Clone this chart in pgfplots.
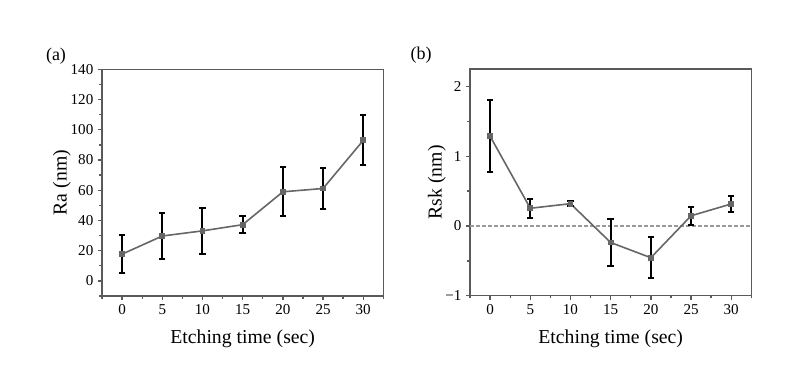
\documentclass[border=0pt]{standalone}
\usepackage{fontspec}
\setmainfont{Liberation Serif}
\usepackage{pgfplots}
\pgfplotsset{compat=1.18}
\definecolor{axgray}{HTML}{5A5A5A}
\definecolor{lngray}{HTML}{666666}
\begin{document}
\begin{tikzpicture}
\path[use as bounding box] (0,0) rectangle (598.5pt,288pt);
\pgfplotsset{
  every axis/.append style={
    scale only axis,
    width=211pt, height=170pt,
    axis line style={axgray, line width=1.1pt},
    tick style={axgray, line width=1pt},
    major tick length=3pt,
    minor tick length=2pt,
    tick align=outside,
    xtick pos=bottom, ytick pos=left,
    /pgf/number format/assume math mode=true,
    ticklabel style={font=\fontsize{11.3}{13}\selectfont, black},
    label style={font=\fontsize{14.8}{17}\selectfont, black},
    xmin=-2.5, xmax=32.5,
    xtick={0,5,...,30},
    minor xtick={-2.5,2.5,...,32.5},
    xlabel={Etching time (sec)},
    xlabel style={at={(axis description cs:0.5,0)}, anchor=base, yshift=-36pt},
  },
}
\begin{axis}[
  at={(76.5pt,66pt)}, anchor=south west,
  ymin=-10, ymax=140,
  ytick={0,20,...,140},
  minor ytick={-10,10,...,130},
  ylabel={Ra (nm)},
  ylabel style={at={(axis description cs:0,0.5)}, anchor=base, yshift=26.5pt},
]
\addplot[lngray, line width=1.2pt, mark=square*, mark size=1.6pt,
  mark options={fill=lngray, draw=lngray},
  error bars/.cd, y dir=both, y explicit,
  error bar style={black, line width=1.5pt},
  error mark options={black, line width=1.5pt, mark size=2.4pt, rotate=90}]
coordinates {
 (0,17.7) +- (0,12.6)
 (5,29.7) +- (0,14.9)
 (10,33.1) +- (0,15.0)
 (15,37.2) +- (0,5.6)
 (20,58.95) +- (0,16.1)
 (25,61.15) +- (0,13.25)
 (30,92.95) +- (0,16.55)
};
\end{axis}
\begin{axis}[
  at={(352.5pt,66.2pt)}, anchor=south west,
  ymin=-1, ymax=2.25,
  ytick={-1,0,1,2},
  yticklabels={−1,0,1,2},
  minor ytick={-0.5,0.5,1.5},
  ylabel={Rsk (nm)},
  ylabel style={at={(axis description cs:0,0.5)}, anchor=base, yshift=21.2pt},
]
\addplot[gray!80, dashed, line width=0.9pt, dash pattern=on 3pt off 1.5pt] coordinates {(-2.5,0) (32.5,0)};
\addplot[lngray, line width=1.2pt, mark=square*, mark size=1.6pt,
  mark options={fill=lngray, draw=lngray, solid},
  error bars/.cd, y dir=both, y explicit,
  error bar style={black, line width=1.5pt},
  error mark options={black, line width=1.5pt, mark size=2.4pt, rotate=90}]
coordinates {
 (0,1.287) +- (0,0.517)
 (5,0.254) +- (0,0.14)
 (10,0.32) +- (0,0.04)
 (15,-0.237) +- (0,0.342)
 (20,-0.455) +- (0,0.29)
 (25,0.146) +- (0,0.127)
 (30,0.316) +- (0,0.11)
};
\end{axis}
\node[font=\fontsize{13.5}{15}\selectfont] at (42pt,246pt) {(a)};
\node[font=\fontsize{13.5}{15}\selectfont] at (315.75pt,246.4pt) {(b)};
\end{tikzpicture}
\end{document}
